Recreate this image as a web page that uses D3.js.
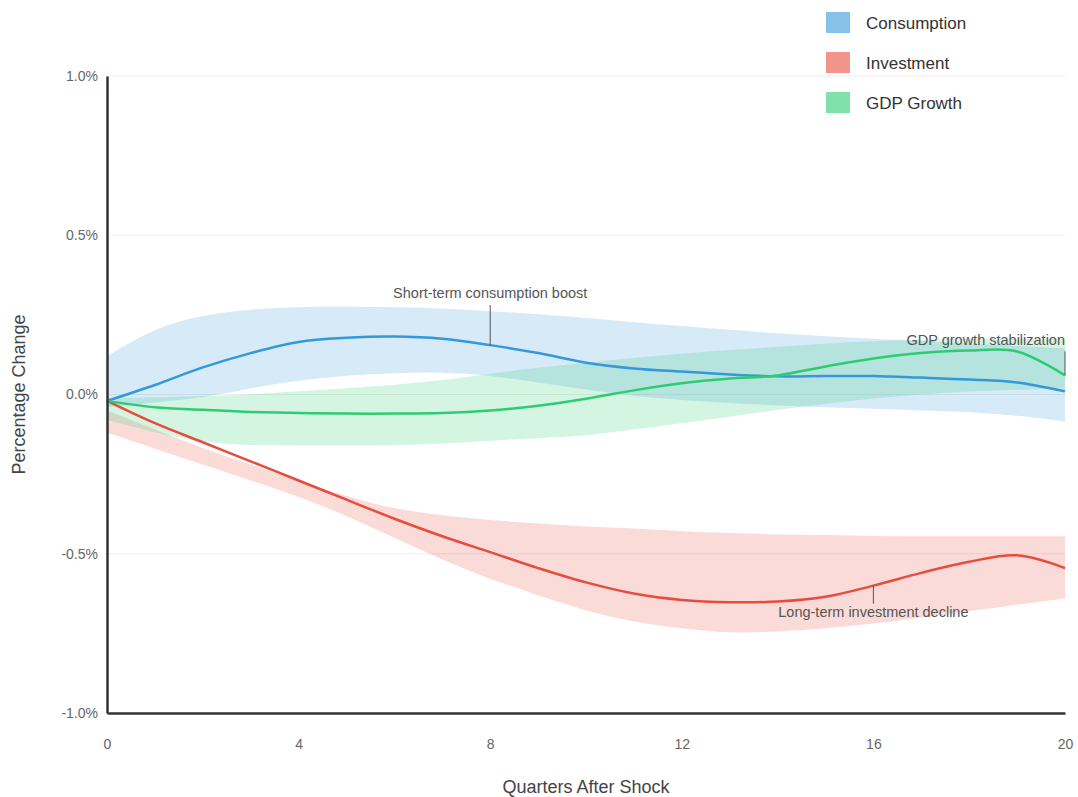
<!DOCTYPE html>
<html>
<head>
<meta charset="utf-8">
<script src="https://cdn.jsdelivr.net/npm/d3@7"></script>
<style>
  body { margin: 0; background: #fff; font-family: "Liberation Sans", Arial, sans-serif; }
</style>
</head>
<body>
<svg id="chart" width="1078" height="797"></svg>
<script>
// quarters after the shock
let quarters = d3.range(0, 21);

// central responses (% change)
let consumption = [-0.02, 0.03, 0.085, 0.13, 0.165, 0.178, 0.182, 0.175, 0.155, 0.13, 0.10, 0.082, 0.072, 0.063, 0.057, 0.058, 0.058, 0.053, 0.047, 0.038, 0.01];
let investment  = [-0.02, -0.09, -0.15, -0.21, -0.27, -0.33, -0.39, -0.445, -0.495, -0.545, -0.59, -0.625, -0.645, -0.652, -0.65, -0.635, -0.60, -0.56, -0.525, -0.505, -0.545];
let gdpGrowth   = [-0.02, -0.04, -0.048, -0.055, -0.058, -0.06, -0.06, -0.058, -0.05, -0.035, -0.013, 0.013, 0.035, 0.05, 0.06, 0.088, 0.113, 0.13, 0.138, 0.135, 0.06];

// confidence bands
let consumptionUpper = [0.12, 0.21, 0.25, 0.268, 0.275, 0.276, 0.274, 0.27, 0.262, 0.252, 0.24, 0.227, 0.215, 0.203, 0.192, 0.183, 0.175, 0.168, 0.16, 0.152, 0.145];
let consumptionLower = [-0.04, -0.025, -0.01, 0.02, 0.045, 0.06, 0.068, 0.07, 0.06, 0.038, 0.015, -0.005, -0.018, -0.027, -0.035, -0.04, -0.045, -0.05, -0.055, -0.065, -0.085];
let investmentUpper  = [-0.05, -0.11, -0.17, -0.22, -0.27, -0.32, -0.36, -0.38, -0.395, -0.405, -0.415, -0.42, -0.43, -0.435, -0.44, -0.44, -0.445, -0.445, -0.445, -0.445, -0.445];
let investmentLower  = [-0.12, -0.17, -0.22, -0.27, -0.32, -0.38, -0.45, -0.52, -0.58, -0.63, -0.68, -0.715, -0.735, -0.75, -0.745, -0.735, -0.72, -0.70, -0.68, -0.66, -0.64];
let gdpUpper = [-0.01, -0.01, -0.005, 0.0, 0.01, 0.02, 0.03, 0.045, 0.065, 0.085, 0.1, 0.115, 0.128, 0.14, 0.15, 0.16, 0.168, 0.172, 0.175, 0.175, 0.175];
let gdpLower = [-0.08, -0.12, -0.15, -0.16, -0.16, -0.16, -0.16, -0.155, -0.145, -0.137, -0.13, -0.11, -0.09, -0.07, -0.048, -0.028, -0.012, 0.0, 0.01, 0.015, 0.02];

let seriesNames  = ["Consumption", "Investment", "GDP Growth"];
let lineColors   = ["#3498db", "#e74c3c", "#2ecc71"];
let swatchColors = ["#85c1e9", "#f1948a", "#82e0aa"];

let yTicks = [-1.0, -0.5, 0, 0.5, 1.0];
let xTicks = [0, 4, 8, 12, 16, 20];

let annotations = [
    { text: "Short-term consumption boost", q: 8, series: 0, dy: -47, anchor: "middle", gap: 7 },
    { text: "Long-term investment decline", q: 16, series: 1, dy: 31, anchor: "middle", gap: -13 },
    { text: "GDP growth stabilization", q: 20, series: 2, dy: -30, anchor: "end", gap: 6 }
];

let series = [
    { name: seriesNames[0], mid: consumption, upper: consumptionUpper, lower: consumptionLower },
    { name: seriesNames[1], mid: investment, upper: investmentUpper, lower: investmentLower },
    { name: seriesNames[2], mid: gdpGrowth, upper: gdpUpper, lower: gdpLower }
];

let svg = d3.select("#chart");
let margin = { top: 76, right: 13, bottom: 84, left: 107 };
let width = 1078 - margin.left - margin.right,
    height = 797 - margin.top - margin.bottom;

let g = svg.append("g").attr("transform", `translate(${margin.left},${margin.top})`);

let x = d3.scaleLinear().domain([0, 20]).range([0, width]);
let y = d3.scaleLinear().domain([-1, 1]).range([height, 0]);

// grid lines
g.append("g")
    .selectAll("line")
    .data(yTicks)
    .join("line")
    .attr("x1", 0).attr("x2", width)
    .attr("y1", d => y(d)).attr("y2", d => y(d))
    .attr("stroke", "#eeeeee")
    .attr("stroke-width", 1);

let area = d3.area()
    .x((d, i) => x(quarters[i]))
    .y0(d => y(d[0]))
    .y1(d => y(d[1]))
    .curve(d3.curveBasis);

let line = d3.line()
    .x((d, i) => x(quarters[i]))
    .y(d => y(d))
    .curve(d3.curveCatmullRom.alpha(0.5));

// bands
series.forEach(function(s, k) {
    let pts = s.lower.map((v, i) => [v, s.upper[i]]);
    g.append("path")
        .datum(pts)
        .attr("d", area)
        .attr("fill", lineColors[k])
        .attr("fill-opacity", 0.2);
});

// lines
series.forEach(function(s, k) {
    g.append("path")
        .datum(s.mid)
        .attr("d", line)
        .attr("fill", "none")
        .attr("stroke", lineColors[k])
        .attr("stroke-width", 2.5);
});

// axes
let yAxis = d3.axisLeft(y)
    .tickValues(yTicks)
    .tickFormat(d => d3.format(".1f")(d).replace("\u2212", "-") + "%")
    .tickSize(0)
    .tickPadding(9);
let xAxis = d3.axisBottom(x)
    .tickValues(xTicks)
    .tickSize(0)
    .tickPadding(26);

let gy = g.append("g").call(yAxis);
let gx = g.append("g").attr("transform", `translate(0,${height})`).call(xAxis);
[gx, gy].forEach(function(a) {
    a.select(".domain").attr("stroke", "#333").attr("stroke-width", 2.5);
    a.selectAll(".tick text")
        .attr("fill", "#666")
        .style("font-family", "'Liberation Sans', Arial, sans-serif")
        .style("font-size", "14px");
});

// axis titles
svg.append("text")
    .attr("x", margin.left + width / 2)
    .attr("y", 793)
    .attr("text-anchor", "middle")
    .attr("fill", "#444")
    .style("font-size", "18px")
    .text("Quarters After Shock");

svg.append("text")
    .attr("transform", `translate(25,${margin.top + height / 2}) rotate(-90)`)
    .attr("text-anchor", "middle")
    .attr("fill", "#444")
    .style("font-size", "18px")
    .text("Percentage Change");

// annotations
annotations.forEach(function(a) {
    let px = x(a.q), py = y(series[a.series].mid[a.q]);
    let ty = py + a.dy;
    g.append("line")
        .attr("x1", px).attr("x2", px)
        .attr("y1", py).attr("y2", ty + a.gap)
        .attr("stroke", "#555")
        .attr("stroke-width", 1);
    g.append("text")
        .attr("x", px)
        .attr("y", ty)
        .attr("text-anchor", a.anchor)
        .attr("fill", "#555")
        .style("font-size", "14.5px")
        .text(a.text);
});

// legend
let legend = svg.append("g").attr("transform", "translate(826,12)");
seriesNames.forEach(function(name, i) {
    let row = legend.append("g").attr("transform", `translate(0,${i * 40})`);
    row.append("rect")
        .attr("width", 24).attr("height", 21)
        .attr("fill", swatchColors[i]);
    row.append("text")
        .attr("x", 40).attr("y", 17)
        .attr("fill", "#333")
        .style("font-size", "17px")
        .text(name);
});
</script>
</body>
</html>
